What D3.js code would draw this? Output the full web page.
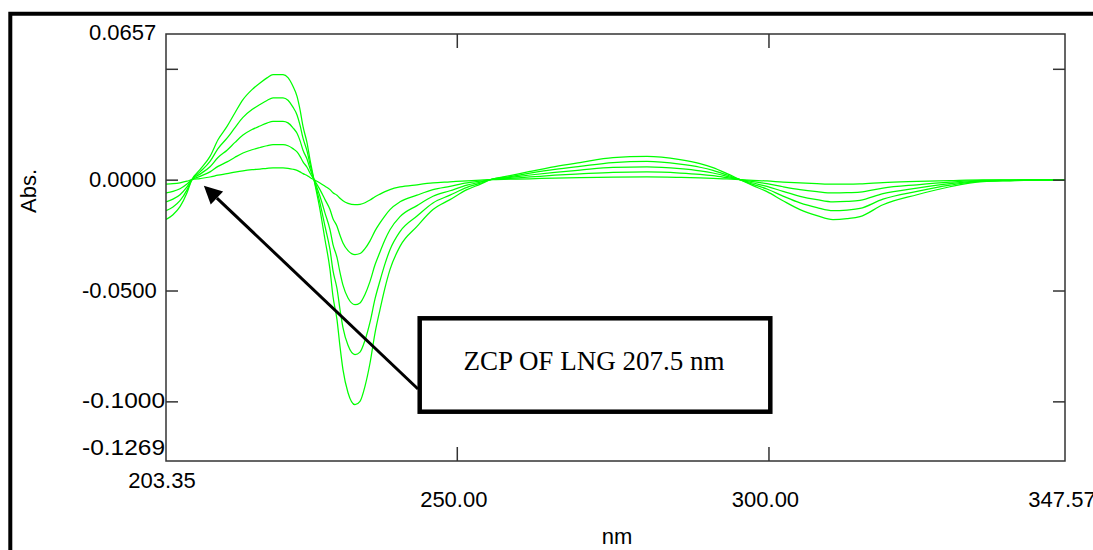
<!DOCTYPE html>
<html>
<head>
<meta charset="utf-8">
<script src="https://cdn.jsdelivr.net/npm/d3@7/dist/d3.min.js"></script>
<style>
  html, body { margin: 0; padding: 0; background: #ffffff; overflow: hidden; }
  svg { display: block; }
</style>
</head>
<body>
<svg id="chart" width="1093" height="550"></svg>
<script>
// ---------------- DATA ----------------
const wavelengths = [203.35, 204.47, 205.60, 206.72, 207.50, 208.80, 210.41, 211.69, 213.14, 214.42,
  215.70, 217.15, 218.43, 219.55, 220.52, 222.12, 222.92, 223.72, 224.37, 224.85,
  225.33, 225.97, 226.45, 227.09, 228.05, 228.86, 229.66, 230.14, 230.78, 231.26,
  231.74, 232.55, 233.67, 234.47, 235.27, 236.08, 236.88, 237.68, 238.48, 239.28,
  240.89, 243.62, 246.18, 248.91, 251.64, 253.80, 255.40, 258.53, 261.74, 265.75,
  269.76, 275.06, 280.51, 285.81, 289.01, 291.10, 293.35, 295.43, 297.52, 299.76,
  302.33, 305.06, 307.78, 310.35, 312.60, 314.68, 318.37, 323.83, 329.12, 334.41,
  338.74, 343.56, 347.57];

const series1 = [-0.0020, -0.0018, -0.0014, -0.0007, 0, 0.0005, 0.0012, 0.0020, 0.0027, 0.0034,
  0.0040, 0.0045, 0.0048, 0.0051, 0.0053, 0.0053, 0.0051, 0.0047, 0.0042, 0.0035,
  0.0027, 0.0019, 0.0010, 0, -0.0015, -0.0030, -0.0045, -0.0059, -0.0070, -0.0084,
  -0.0095, -0.0107, -0.0113, -0.0111, -0.0104, -0.0092, -0.0077, -0.0065, -0.0054, -0.0045,
  -0.0033, -0.0023, -0.0015, -0.0010, -0.0005, -0.0002, 0, 0.0002, 0.0004, 0.0007,
  0.0009, 0.0011, 0.0012, 0.0010, 0.0008, 0.0006, 0.0003, 0, -0.0003, -0.0006,
  -0.0011, -0.0015, -0.0018, -0.0020, -0.0020, -0.0019, -0.0013, -0.0008, -0.0004, -0.0001,
  -0.0001, 0, 0];

const series2 = [-0.0060, -0.0053, -0.0041, -0.0020, 0, 0.0015, 0.0035, 0.0060, 0.0080, 0.0101,
  0.0120, 0.0135, 0.0145, 0.0153, 0.0158, 0.0158, 0.0153, 0.0140, 0.0125, 0.0105,
  0.0080, 0.0056, 0.0030, 0, -0.0045, -0.0090, -0.0135, -0.0176, -0.0210, -0.0251,
  -0.0286, -0.0320, -0.0338, -0.0333, -0.0311, -0.0276, -0.0231, -0.0195, -0.0163, -0.0135,
  -0.0100, -0.0070, -0.0045, -0.0030, -0.0015, -0.0007, 0, 0.0006, 0.0012, 0.0020,
  0.0026, 0.0033, 0.0035, 0.0030, 0.0024, 0.0018, 0.0009, 0, -0.0009, -0.0018,
  -0.0032, -0.0045, -0.0054, -0.0060, -0.0059, -0.0056, -0.0038, -0.0023, -0.0011, -0.0003,
  -0.0002, -0.0001, -0.0001];

const series3 = [-0.0100, -0.0088, -0.0068, -0.0033, 0, 0.0025, 0.0058, 0.0100, 0.0133, 0.0168,
  0.0201, 0.0226, 0.0242, 0.0255, 0.0263, 0.0263, 0.0256, 0.0234, 0.0209, 0.0176,
  0.0133, 0.0093, 0.0050, 0, -0.0075, -0.0151, -0.0226, -0.0293, -0.0351, -0.0418,
  -0.0476, -0.0534, -0.0564, -0.0556, -0.0518, -0.0459, -0.0384, -0.0326, -0.0271, -0.0226,
  -0.0167, -0.0117, -0.0075, -0.0050, -0.0025, -0.0011, 0, 0.0010, 0.0021, 0.0033,
  0.0043, 0.0055, 0.0058, 0.0050, 0.0040, 0.0030, 0.0015, 0, -0.0015, -0.0030,
  -0.0053, -0.0075, -0.0090, -0.0100, -0.0098, -0.0093, -0.0063, -0.0038, -0.0018, -0.0005,
  -0.0003, -0.0001, -0.0001];

const series4 = [-0.0140, -0.0123, -0.0095, -0.0046, 0, 0.0035, 0.0082, 0.0140, 0.0187, 0.0235,
  0.0281, 0.0316, 0.0339, 0.0357, 0.0369, 0.0369, 0.0358, 0.0327, 0.0292, 0.0246,
  0.0187, 0.0130, 0.0070, 0, -0.0105, -0.0211, -0.0316, -0.0410, -0.0491, -0.0585,
  -0.0667, -0.0747, -0.0789, -0.0778, -0.0725, -0.0643, -0.0538, -0.0456, -0.0380, -0.0316,
  -0.0234, -0.0164, -0.0105, -0.0070, -0.0035, -0.0016, 0, 0.0014, 0.0029, 0.0046,
  0.0060, 0.0077, 0.0082, 0.0070, 0.0056, 0.0042, 0.0021, 0, -0.0021, -0.0042,
  -0.0074, -0.0105, -0.0126, -0.0140, -0.0137, -0.0130, -0.0088, -0.0053, -0.0025, -0.0007,
  -0.0004, -0.0002, -0.0002];

const series5 = [-0.0180, -0.0158, -0.0122, -0.0059, 0, 0.0045, 0.0105, 0.0180, 0.0240, 0.0302,
  0.0361, 0.0406, 0.0436, 0.0459, 0.0474, 0.0474, 0.0460, 0.0421, 0.0376, 0.0316,
  0.0240, 0.0167, 0.0090, 0, -0.0135, -0.0271, -0.0406, -0.0527, -0.0631, -0.0752,
  -0.0857, -0.0961, -0.1015, -0.1000, -0.0932, -0.0827, -0.0692, -0.0586, -0.0488, -0.0406,
  -0.0301, -0.0211, -0.0135, -0.0090, -0.0045, -0.0020, 0, 0.0018, 0.0037, 0.0059,
  0.0077, 0.0099, 0.0105, 0.0090, 0.0072, 0.0054, 0.0027, 0, -0.0027, -0.0054,
  -0.0095, -0.0135, -0.0162, -0.0180, -0.0176, -0.0167, -0.0113, -0.0068, -0.0032, -0.0009,
  -0.0005, -0.0002, -0.0002];

const allSeries = [series1, series2, series3, series4, series5];

const xDomain = [203.35, 347.57];
const yDomain = [-0.1269, 0.0657];
const xTickValues = [250, 300];
const xTickLabels = ["203.35", "250.00", "300.00", "347.57"];
const xLabelValues = [203.35, 250, 300, 347.57];
const yTickValues = [0.05, 0, -0.05, -0.1];
const yLabelValues = [0.0657, 0, -0.05, -0.1, -0.1269];
const yTickLabels = ["0.0657", "0.0000", "-0.0500", "-0.1000", "-0.1269"];
const xTitle = "nm";
const yTitle = "Abs.";
const annotationText = "ZCP OF LNG 207.5 nm";
const zcpWavelength = 207.5;

// ---------------- LAYOUT ----------------
const plot = { left: 166, top: 34, right: 1065, bottom: 461 };
const svg = d3.select("#chart");

const x = d3.scaleLinear().domain(xDomain).range([plot.left, plot.right]);
const y = d3.scaleLinear().domain(yDomain).range([plot.bottom, plot.top]);

// outer thick frame (only top and left edges are visible in the picture)
svg.append("path")
  .attr("d", "M10.3,600 V13.8 H1100")
  .attr("fill", "none").attr("stroke", "#000").attr("stroke-width", 4)
  .attr("stroke-linejoin", "miter");

// plot clip
svg.append("clipPath").attr("id", "clip")
  .append("rect")
  .attr("x", plot.left).attr("y", plot.top)
  .attr("width", plot.right - plot.left).attr("height", plot.bottom - plot.top);

// curves
const line = d3.line()
  .x((d, i) => x(wavelengths[i]))
  .y(d => y(d))
  .curve(d3.curveMonotoneX);

svg.append("g").attr("clip-path", "url(#clip)")
  .selectAll("path.curve")
  .data(allSeries)
  .join("path")
  .attr("class", "curve")
  .attr("d", d => line(d))
  .attr("fill", "none")
  .attr("stroke", "#00ff00")
  .attr("stroke-width", 1.25);

// plot border
svg.append("rect")
  .attr("x", plot.left).attr("y", plot.top)
  .attr("width", plot.right - plot.left).attr("height", plot.bottom - plot.top)
  .attr("fill", "none").attr("stroke", "#333").attr("stroke-width", 1.5);

// axis ticks (inward), labels drawn separately
const tickColor = "#333";
function styleAxis(g) {
  g.select(".domain").remove();
  g.selectAll(".tick line").attr("stroke", tickColor).attr("stroke-width", 1.5);
  g.selectAll(".tick text").remove();
}
svg.append("g").attr("transform", `translate(${plot.left},0)`)
  .call(d3.axisLeft(y).tickValues(yTickValues).tickSize(-12).tickFormat(""))
  .call(styleAxis);
svg.append("g").attr("transform", `translate(${plot.right},0)`)
  .call(d3.axisRight(y).tickValues(yTickValues).tickSize(-12).tickFormat(""))
  .call(styleAxis);
svg.append("g").attr("transform", `translate(0,${plot.bottom})`)
  .call(d3.axisBottom(x).tickValues(xTickValues).tickSize(-14).tickFormat(""))
  .call(styleAxis);
svg.append("g").attr("transform", `translate(0,${plot.top})`)
  .call(d3.axisTop(x).tickValues(xTickValues).tickSize(-14).tickFormat(""))
  .call(styleAxis);

const font = "'Liberation Sans', Arial, sans-serif";

// y labels
svg.append("g").selectAll("text")
  .data(yLabelValues)
  .join("text")
  .attr("x", d => d < 0 ? 82 : 89)
  .attr("y", (d, i) => i === 0 ? y(d) + 6 : (i === yLabelValues.length - 1 ? y(d) - 6 : y(d) + 7))
  .attr("text-anchor", "start")
  .attr("font-family", font)
  .attr("font-size", 22)
  .attr("fill", "#000")
  .each(function (d, i) {
    if (d <= -0.1) d3.select(this).attr("textLength", 83).attr("lengthAdjust", "spacingAndGlyphs");
  })
  .text((d, i) => yTickLabels[i]);

// x labels
svg.append("g").selectAll("text")
  .data(xLabelValues)
  .join("text")
  .attr("x", (d, i) => x(d) - (i === 0 ? 4 : 3))
  .attr("y", (d, i) => i === 0 ? 488 : 507)
  .attr("text-anchor", "middle")
  .attr("font-family", font)
  .attr("font-size", 22)
  .attr("fill", "#000")
  .text((d, i) => xTickLabels[i]);

// axis titles
svg.append("text")
  .attr("x", 617).attr("y", 544)
  .attr("text-anchor", "middle")
  .attr("font-family", font).attr("font-size", 22)
  .text(xTitle);
svg.append("text")
  .attr("transform", "translate(36,191) rotate(-90)")
  .attr("text-anchor", "middle")
  .attr("font-family", font).attr("font-size", 22)
  .text(yTitle);

// annotation box
const box = { x: 419.7, y: 318.3, w: 350.6, h: 93.4 };
svg.append("rect")
  .attr("x", box.x).attr("y", box.y).attr("width", box.w).attr("height", box.h)
  .attr("fill", "#fff").attr("stroke", "#000").attr("stroke-width", 4.5);
svg.append("text")
  .attr("x", 594).attr("y", 370)
  .attr("text-anchor", "middle")
  .attr("font-family", "'Liberation Serif', 'Times New Roman', serif")
  .attr("font-size", 27)
  .text(annotationText);

// arrow from box to zero-crossing point
const tip = [x(zcpWavelength) + 12, y(0) + 6];
const start = [418, 389];
const dx = tip[0] - start[0], dy = tip[1] - start[1];
const len = Math.hypot(dx, dy);
const ux = dx / len, uy = dy / len;
const headLen = 18, headHalf = 9;
const base = [tip[0] - ux * headLen, tip[1] - uy * headLen];
svg.append("line")
  .attr("x1", start[0]).attr("y1", start[1])
  .attr("x2", base[0]).attr("y2", base[1])
  .attr("stroke", "#000").attr("stroke-width", 3);
svg.append("polygon")
  .attr("points", [
    tip,
    [base[0] - uy * headHalf, base[1] + ux * headHalf],
    [base[0] + uy * headHalf, base[1] - ux * headHalf]
  ].map(p => p.join(",")).join(" "))
  .attr("fill", "#000");
</script>
</body>
</html>
